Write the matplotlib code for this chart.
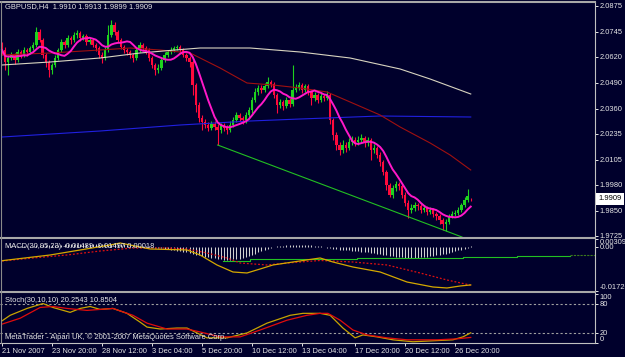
import numpy as np
import pandas as pd
import matplotlib
matplotlib.use("Agg")
import matplotlib.pyplot as plt
from matplotlib.lines import Line2D

# GBPUSD H4 bars (bar 0 = 21 Nov 2007 00:00)
close = [
    2.0653, 2.0593, 2.0613, 2.0628, 2.0603, 2.0643, 2.0628, 2.0653, 2.0643, 2.0663,
    2.0678, 2.0743, 2.0703, 2.0628, 2.0593, 2.0553, 2.0578, 2.0613, 2.0653, 2.0693,
    2.0678, 2.0713, 2.0703, 2.0728, 2.0738, 2.0713, 2.0723, 2.0693, 2.0703, 2.0678,
    2.0663, 2.0628, 2.0613, 2.0653, 2.0728, 2.0778, 2.0743, 2.0703, 2.0668, 2.0653,
    2.0643, 2.0628, 2.0613, 2.0653, 2.0678, 2.0663, 2.0653, 2.0613, 2.0578, 2.0553,
    2.0563, 2.0603, 2.0628, 2.0643, 2.0653, 2.0663, 2.0668, 2.0653, 2.0628, 2.0613,
    2.0593, 2.0478, 2.0378, 2.0313, 2.0293, 2.0278, 2.0263, 2.0283, 2.0268, 2.0253,
    2.0273, 2.0263, 2.0253, 2.0278, 2.0303, 2.0328, 2.0313, 2.0303, 2.0328, 2.0353,
    2.0403, 2.0443, 2.0463, 2.0453, 2.0473, 2.0493, 2.0483, 2.0428, 2.0378, 2.0393,
    2.0373, 2.0403, 2.0383, 2.0453, 2.0463, 2.0478, 2.0453, 2.0473, 2.0443, 2.0413,
    2.0428, 2.0403, 2.0423, 2.0413, 2.0428, 2.0303, 2.0228, 2.0178, 2.0153, 2.0178,
    2.0163, 2.0193, 2.0203, 2.0193, 2.0203, 2.0213, 2.0188, 2.0203, 2.0153, 2.0163,
    2.0128, 2.0093, 2.0043, 1.9978, 1.9928, 1.9963, 1.9983, 1.9973, 1.9928, 1.9888,
    1.9853, 1.9863, 1.9878, 1.9873, 1.9853, 1.9863, 1.9843, 1.9853, 1.9833, 1.9823,
    1.9803, 1.9783, 1.9793, 1.9823, 1.9833, 1.9838, 1.9853, 1.9878, 1.9903, 1.9923,
    1.9909]
high = [
    2.0693, 2.0668, 2.0628, 2.0643, 2.0638, 2.0658, 2.0653, 2.0668, 2.0663, 2.0673,
    2.0693, 2.0768, 2.0758, 2.0713, 2.0638, 2.0603, 2.0588, 2.0628, 2.0663, 2.0708,
    2.0703, 2.0728, 2.0723, 2.0743, 2.0753, 2.0748, 2.0733, 2.0733, 2.0718, 2.0713,
    2.0688, 2.0673, 2.0643, 2.0668, 2.0778, 2.0803, 2.0793, 2.0753, 2.0713, 2.0678,
    2.0663, 2.0653, 2.0638, 2.0663, 2.0693, 2.0688, 2.0673, 2.0663, 2.0623, 2.0588,
    2.0583, 2.0613, 2.0643, 2.0653, 2.0668, 2.0673, 2.0678, 2.0678, 2.0663, 2.0638,
    2.0623, 2.0603, 2.0488, 2.0393, 2.0328, 2.0308, 2.0293, 2.0298, 2.0298, 2.0283,
    2.0288, 2.0288, 2.0278, 2.0298, 2.0318, 2.0343, 2.0338, 2.0323, 2.0343, 2.0368,
    2.0418, 2.0463, 2.0478, 2.0478, 2.0488, 2.0518, 2.0503, 2.0493, 2.0438, 2.0408,
    2.0403, 2.0418, 2.0413, 2.0578, 2.0483, 2.0493, 2.0488, 2.0483, 2.0483, 2.0453,
    2.0443, 2.0438, 2.0438, 2.0433, 2.0448, 2.0438, 2.0313, 2.0243, 2.0193, 2.0203,
    2.0193, 2.0213, 2.0223, 2.0218, 2.0223, 2.0233, 2.0223, 2.0218, 2.0213, 2.0183,
    2.0173, 2.0143, 2.0103, 2.0053, 1.9988, 1.9978, 1.9998, 1.9993, 1.9983, 1.9943,
    1.9903, 1.9883, 1.9893, 1.9888, 1.9883, 1.9878, 1.9873, 1.9868, 1.9863, 1.9843,
    1.9833, 1.9813, 1.9808, 1.9833, 1.9848, 1.9853, 1.9868, 1.9888, 1.9918, 1.9958,
    1.9913]
low = [
    2.0628, 2.0553, 2.0528, 2.0603, 2.0583, 2.0593, 2.0613, 2.0618, 2.0623, 2.0633,
    2.0653, 2.0668, 2.0693, 2.0613, 2.0568, 2.0518, 2.0533, 2.0568, 2.0603, 2.0643,
    2.0663, 2.0668, 2.0683, 2.0693, 2.0713, 2.0698, 2.0703, 2.0678, 2.0683, 2.0668,
    2.0648, 2.0613, 2.0588, 2.0603, 2.0643, 2.0718, 2.0728, 2.0693, 2.0658, 2.0638,
    2.0628, 2.0613, 2.0593, 2.0603, 2.0643, 2.0648, 2.0633, 2.0598, 2.0563, 2.0528,
    2.0538, 2.0553, 2.0593, 2.0618, 2.0633, 2.0643, 2.0653, 2.0638, 2.0618, 2.0598,
    2.0568, 2.0428, 2.0343, 2.0293, 2.0253, 2.0263, 2.0248, 2.0253, 2.0253, 2.0178,
    2.0238, 2.0248, 2.0233, 2.0243, 2.0268, 2.0293, 2.0298, 2.0283, 2.0288, 2.0318,
    2.0338, 2.0393, 2.0428, 2.0438, 2.0443, 2.0463, 2.0468, 2.0413, 2.0338, 2.0363,
    2.0353, 2.0363, 2.0368, 2.0373, 2.0443, 2.0453, 2.0438, 2.0443, 2.0428, 2.0378,
    2.0398, 2.0388, 2.0393, 2.0398, 2.0403, 2.0283, 2.0203, 2.0153, 2.0128, 2.0138,
    2.0143, 2.0153, 2.0178, 2.0173, 2.0178, 2.0188, 2.0168, 2.0173, 2.0103, 2.0138,
    2.0113, 2.0073, 2.0028, 1.9953, 1.9918, 1.9913, 1.9948, 1.9953, 1.9913, 1.9873,
    1.9813, 1.9838, 1.9848, 1.9853, 1.9838, 1.9843, 1.9828, 1.9833, 1.9818, 1.9803,
    1.9783, 1.9753, 1.9748, 1.9783, 1.9813, 1.9823, 1.9828, 1.9843, 1.9868, 1.9893,
    1.9899]
first_open = 2.0678
last_open = 1.9910

# moving averages on the price window (bar index, price)
white_x = [0, 15.4, 31.4, 44.2, 55.4, 63.4, 79.4, 95.4, 111.4, 127.4, 137, 150]
white_y = [2.0578, 2.0593, 2.0613, 2.0638, 2.0653, 2.0663, 2.0663, 2.0643, 2.0613,
           2.0558, 2.0508, 2.0433]
dred_x = [0, 15.4, 31.4, 41, 50.6, 60.2, 63.4, 69.8, 78.4, 86.7, 95.4, 104, 111.4,
          121, 127.4, 137, 143.4, 150]
dred_y = [2.0628, 2.0638, 2.0653, 2.0663, 2.0653, 2.0638, 2.0613, 2.0563, 2.0488,
          2.0478, 2.0463, 2.0443, 2.0393, 2.0328, 2.0268, 2.0188, 2.0128, 2.0053]
blue_x = [0, 31.4, 57, 79.4, 95.4, 121, 150]
blue_y = [2.0218, 2.0248, 2.0278, 2.0298, 2.0308, 2.0323, 2.0318]
trend_x = [69, 147.2]
trend_y = [2.0178, 1.9718]

# MACD(30,95,23)
macd_x = [0, 15.4, 25, 34.6, 37.8, 47.4, 59.2, 63.4, 68.8, 73.9, 78.4, 82.6, 86.7,
          93.1, 101.8, 105.9, 112.3, 121, 129.6, 137.9, 142.4, 146.6, 150]
macd_main = [-0.00540, -0.00317, -0.00121, 0.00074, 0.00152, -0.00082, -0.00121,
             -0.00317, -0.00708, -0.00982, -0.01021, -0.00865, -0.00708, -0.00591,
             -0.00434, -0.00591, -0.00787, -0.00982, -0.01374, -0.01569, -0.01608,
             -0.01530, -0.01489]
sig_x = [0, 9.9, 20.8, 31.4, 41.9, 52.8, 59.2, 65.6, 72, 76.2, 84.8, 91.2, 101.8,
         112.3, 123.2, 133.8, 142.4, 150]
macd_signal = [-0.00552, -0.00434, -0.00317, -0.00161, -0.00043, -0.00043, -0.00082,
               -0.00239, -0.00434, -0.00630, -0.00708, -0.00630, -0.00532, -0.00591,
               -0.00708, -0.01021, -0.01295, -0.01497]
macd_hist = [
    0.0000, 0.0000, 0.0002, 0.0002, 0.0002, 0.0004, 0.0004, 0.0004, 0.0004, 0.0004,
    0.0004, 0.0006, 0.0006, 0.0006, 0.0006, 0.0008, 0.0008, 0.0008, 0.0008, 0.0008,
    0.0010, 0.0010, 0.0010, 0.0010, 0.0012, 0.0012, 0.0012, 0.0012, 0.0012, 0.0012,
    0.0012, 0.0012, 0.0012, 0.0012, 0.0012, 0.0012, 0.0012, 0.0012, 0.0010, 0.0010,
    0.0008, 0.0008, 0.0006, 0.0006, 0.0004, 0.0004, 0.0002, 0.0002,
    -0.0002, -0.0004, -0.0004, -0.0006, -0.0008, -0.0010, -0.0012, -0.0014, -0.0016, -0.0016,
    -0.0020, -0.0021, -0.0023, -0.0027, -0.0031, -0.0033, -0.0035, -0.0039, -0.0041, -0.0043,
    -0.0045, -0.0047, -0.0049, -0.0051, -0.0051, -0.0051, -0.0049, -0.0049, -0.0047, -0.0043,
    -0.0039, -0.0035, -0.0031, -0.0027, -0.0021, -0.0018, -0.0012, -0.0008, -0.0004, -0.0002,
    0.0002, 0.0004, 0.0004, 0.0006, 0.0006, 0.0008, 0.0008, 0.0008, 0.0008, 0.0008,
    0.0006, 0.0006, 0.0004, 0.0004, 0.0002,
    -0.0002, -0.0004, -0.0006, -0.0008, -0.0010, -0.0012, -0.0012, -0.0014, -0.0014, -0.0016,
    -0.0016, -0.0018, -0.0020, -0.0020, -0.0021, -0.0023, -0.0025, -0.0027, -0.0029, -0.0031,
    -0.0033, -0.0035, -0.0037, -0.0039, -0.0039, -0.0041, -0.0043, -0.0043, -0.0043, -0.0043,
    -0.0043, -0.0041, -0.0039, -0.0039, -0.0037, -0.0035, -0.0033, -0.0031, -0.0029, -0.0027,
    -0.0023, -0.0020, -0.0018, -0.0014, -0.0012, -0.0008, -0.0006, 0.0002]
level_x = [70.7, 79.4, 101.8, 113.6, 129.9, 147.5, 164.8, 181.8]
level_v = [-0.00552, -0.00493, -0.00474, -0.00454, -0.00434, -0.00384, -0.00344, -0.00344]
level_tail_x = [181.8, 189.8]
level_tail_v = [-0.00317, -0.00317]

# Stochastic(30,10,10)
stk_x = [0, 2.6, 8, 13.1, 16.3, 21.8, 25, 28.2, 31.4, 35.5, 40, 44.2, 46.4, 50.6, 56,
         59.2, 62.4, 65.6, 72, 78.4, 84.8, 92.2, 96.3, 101.8, 105, 109.1, 113, 115.5,
         120, 125.1, 131.5, 137.9, 144.3, 147.5, 150]
stoch_k = [44.6, 56, 70, 80, 72, 62, 70, 74, 68, 70, 60, 42, 32, 28, 30, 30, 20, 10,
           10, 20, 40, 56, 60, 60, 56, 30, 10, 16, 12, 6, 2, 4, 6, 12, 20.25]
std_x = [0, 5.8, 12.2, 16.3, 20.8, 27.2, 35.5, 41.9, 46.4, 52.8, 59.2, 63.4, 69.8,
         76.2, 82.6, 91.2, 97.6, 101.8, 104.3, 108.2, 112.3, 116.8, 123.2, 129.6,
         139.2, 145.6, 150]
stoch_d = [38, 50, 72, 74, 70, 66, 70, 56, 40, 28, 28, 22, 12, 12, 26, 46, 56, 60,
           60, 46, 26, 16, 10, 6, 6, 8, 10.85]

price_ticks = [2.0875, 2.0745, 2.0620, 2.0490, 2.0360, 2.0235, 2.0105, 1.9980, 1.9850, 1.9725]
date_ticks = [0, 16, 32, 48, 64, 80, 96, 113, 129, 145]
date_labels = ['21 Nov 2007', '23 Nov 20:00', '28 Nov 12:00', '3 Dec 04:00', '5 Dec 20:00',
               '10 Dec 12:00', '13 Dec 04:00', '17 Dec 20:00', '20 Dec 12:00', '26 Dec 20:00']

# ---- style ----
W, H = 625, 357
bg = '#00002c'
fg = '#e6e6e6'
bull = '#1ed21e'
bear = '#ff0a3c'
fs = 5.4
plt.rcParams['font.family'] = ['Liberation Sans', 'DejaVu Sans']


def fx(px):
    return px / W


def fy(py):
    return 1 - py / H


fig = plt.figure(figsize=(W / 100, H / 100), dpi=100, facecolor=bg)
ax = fig.add_axes([0, fy(237), fx(595), (237 - 2) / H])
ax2 = fig.add_axes([0, fy(291), fx(595), (291 - 239) / H])
ax3 = fig.add_axes([0, fy(343), fx(595), (343 - 293) / H])

for a in (ax, ax2, ax3):
    a.set_facecolor(bg)
    a.set_xlim(-0.64, 189.76)
    for s in a.spines.values():
        s.set_visible(False)
    a.spines['right'].set_visible(True)
    a.spines['right'].set_color('#c0c0c0')
    a.spines['right'].set_linewidth(0.8)
    a.yaxis.tick_right()
    a.tick_params(axis='y', colors=fg, labelsize=fs, length=2, width=0.7, pad=1.2)
    a.tick_params(axis='x', bottom=False, labelbottom=False)

# ---- candles ----
n = len(close)
idx = np.arange(n)
c = np.array(close)
o = np.r_[first_open, c[:-1]]
o[-1] = last_open
hi = np.array(high)
lo = np.array(low)
cols = np.where(c >= o, bull, bear)
ax.vlines(idx, lo, hi, colors=cols, linewidth=0.8, zorder=2)
ax.bar(idx, np.abs(c - o), bottom=np.minimum(o, c), width=0.74, color=cols,
       linewidth=0, zorder=2)

fast_ma = pd.Series(close).rolling(8, min_periods=1).mean()
ax.plot(blue_x, blue_y, color='#2020e0', lw=0.8, zorder=3)
ax.plot(dred_x, dred_y, color='#a01010', lw=0.8, zorder=3)
ax.plot(white_x, white_y, color='#d8d4c0', lw=0.8, zorder=3)
ax.plot(trend_x, trend_y, color='#22c022', lw=0.8, zorder=3)
ax.plot(idx, fast_ma, color='#ff18c8', lw=1.4, zorder=4)

ax.set_ylim(1.9718, 2.0893)
ax.set_yticks(price_ticks)
ax.set_yticklabels([f'{v:.4f}' for v in price_ticks])
ax.annotate('1.9909', xy=(1, close[-1]), xycoords=ax.get_yaxis_transform(),
            xytext=(2.4, 0), textcoords='offset points', ha='left', va='center',
            fontsize=fs, color='black',
            bbox=dict(boxstyle='square,pad=0.3', fc='white', ec='none'))

# ---- MACD ----
ax2.vlines(idx, 0, macd_hist, colors='#d0d0d0', linewidth=0.75, zorder=2)
ax2.step(level_x, level_v, where='post', color='#22c022', lw=0.8, zorder=3)
ax2.plot(level_tail_x, level_tail_v, color='#3c7a1c', lw=0.8, ls=(0, (2, 1)), zorder=3)
ax2.plot(sig_x, macd_signal, color='#e01010', lw=0.9, ls=(0, (1.5, 1.5)), zorder=3)
ax2.plot(macd_x, macd_main, color='#d4a800', lw=0.9, zorder=3)
ax2.set_ylim(-0.01726, 0.00309)
ax2.set_yticks([-0.01726, 0, 0.00309])
ax2.set_yticklabels(['-0.01726', '0.00', '0.00309'])
lbls = ax2.get_yticklabels()
lbls[0].set_va('bottom')
lbls[2].set_va('top')

# ---- Stochastic ----
for lev in (80, 20):
    ax3.axhline(lev, color='#a0a0a0', lw=0.8, ls=(0, (2, 2)), zorder=1)
ax3.plot(stk_x, stoch_k, color='#c8a400', lw=0.9, zorder=3)
ax3.plot(std_x, stoch_d, color='#e00c0c', lw=0.9, zorder=3)
ax3.set_ylim(-0.5, 101.5)
ax3.set_yticks([0, 20, 80, 100])
ax3.set_yticklabels(['0', '20', '80', '100'])
lbls = ax3.get_yticklabels()
lbls[0].set_va('bottom')
lbls[3].set_va('top')
ax3.spines['bottom'].set_visible(True)
ax3.spines['bottom'].set_color('#c0c0c0')
ax3.spines['bottom'].set_linewidth(0.8)
ax3.set_xticks(date_ticks)
ax3.set_xticklabels(date_labels)
ax3.tick_params(axis='x', bottom=True, labelbottom=True, colors=fg, labelsize=fs,
                length=2.2, width=0.7, pad=1.2)
for lb in ax3.get_xticklabels():
    lb.set_ha('left')

# ---- window borders ----
for yy in (1.5, 238, 292):
    fig.add_artist(Line2D([0, fx(595)], [fy(yy), fy(yy)], color='#a8a8a8', lw=1.5))
fig.add_artist(Line2D([fx(1), fx(1)], [fy(1), fy(343)], color='#8a8a8a', lw=0.8))

# ---- texts ----
fig.text(fx(5), fy(7), 'GBPUSD,H4  1.9910 1.9913 1.9899 1.9909', color=fg, fontsize=fs,
         ha='left', va='center')
fig.text(fx(5), fy(246.5), 'MACD(30,95,23) -0.01489 -0.01497 0.00018', color=fg,
         fontsize=fs, ha='left', va='center', zorder=10)
fig.text(fx(5), fy(301), 'Stoch(30,10,10) 20.2543 10.8504', color=fg, fontsize=fs,
         ha='left', va='center')
fig.text(fx(5), fy(337.5), 'MetaTrader - Alpari UK, \u00a9 2001-2007 MetaQuotes Software Corp.',
         color=fg, fontsize=fs, ha='left', va='center')

fig.savefig('out.png', dpi=100, facecolor=bg)
